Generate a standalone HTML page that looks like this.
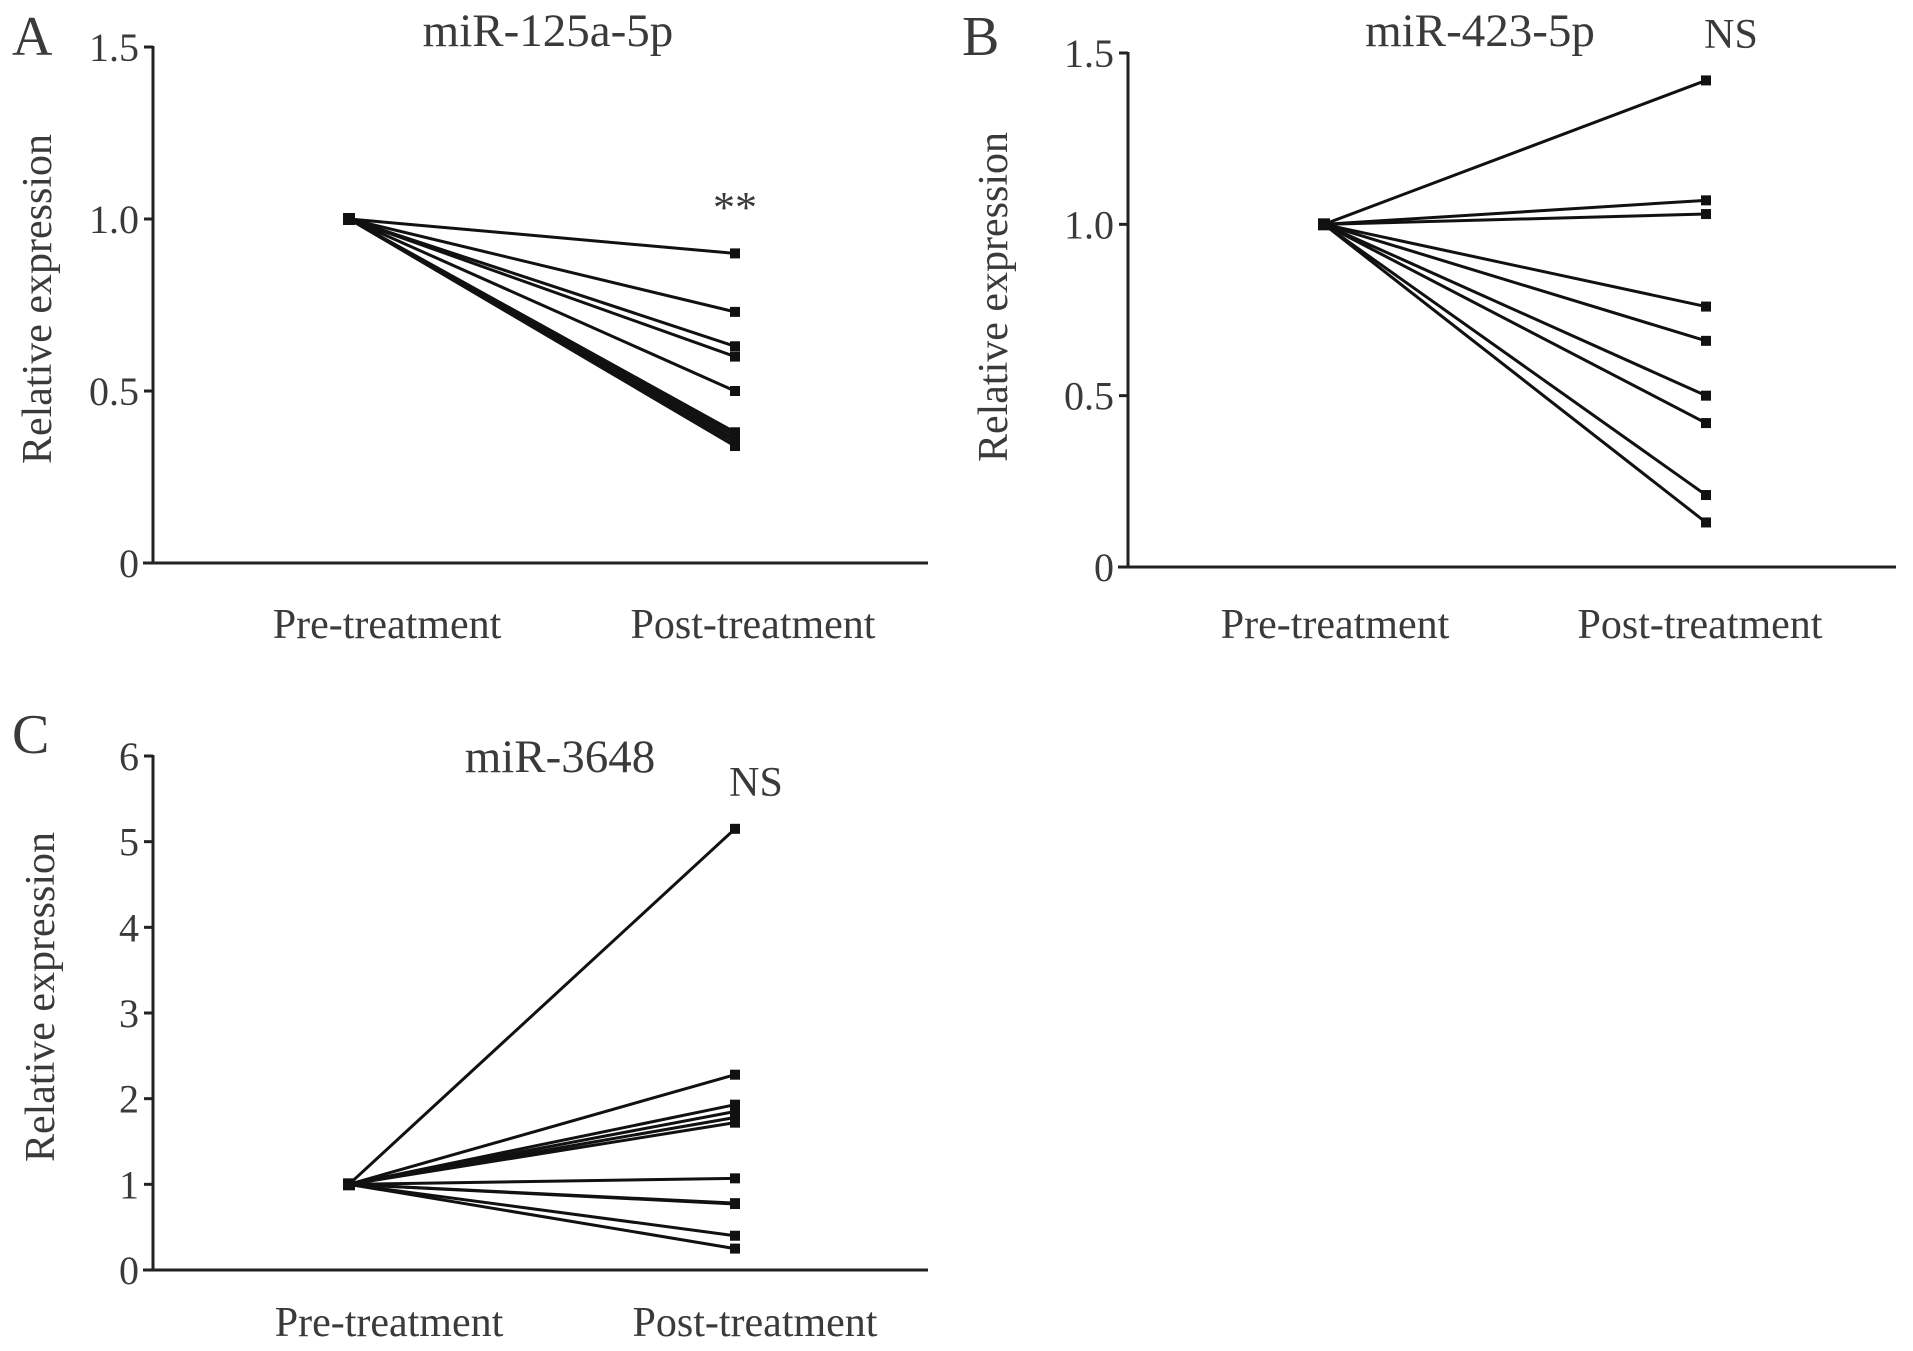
<!DOCTYPE html>
<html><head><meta charset="utf-8"><style>
html,body{margin:0;padding:0;background:#fff;}
svg{display:block;}
text{font-family:"Liberation Serif",serif;fill:#3a3a3a;}
</style></head><body>
<svg id="fig" width="1913" height="1351" viewBox="0 0 1913 1351" xmlns="http://www.w3.org/2000/svg"></svg>
<script>
const categories = ["Pre-treatment", "Post-treatment"];
const postA = [0.9, 0.73, 0.63, 0.6, 0.5, 0.38, 0.37, 0.36, 0.35, 0.34];
const postB = [1.42, 1.07, 1.03, 0.76, 0.66, 0.5, 0.42, 0.21, 0.13];
const postC = [5.15, 2.28, 1.93, 1.85, 1.78, 1.72, 1.07, 0.78, 0.77, 0.4, 0.25];
const preValue = 1;
const ticksA = [0, 0.5, 1.0, 1.5];
const tickLabelsA = ["0", "0.5", "1.0", "1.5"];
const ticksB = [0, 0.5, 1.0, 1.5];
const tickLabelsB = ["0", "0.5", "1.0", "1.5"];
const ticksC = [0, 1, 2, 3, 4, 5, 6];
const tickLabelsC = ["0", "1", "2", "3", "4", "5", "6"];

const NS = "http://www.w3.org/2000/svg";
const svg = document.getElementById("fig");
function mk(tag, attrs, parent) {
  const e = document.createElementNS(NS, tag);
  for (const k in attrs) e.setAttribute(k, attrs[k]);
  (parent || svg).appendChild(e);
  return e;
}
function txt(s, attrs, parent) { const t = mk("text", attrs, parent); t.textContent = s; return t; }

function panel(cfg) {
  const g = mk("g", {});
  
  
  const yMax = cfg.ticks[cfg.ticks.length - 1];
  const y = v => cfg.y0 - (v / yMax) * (cfg.y0 - cfg.yTop);
  const xs = [cfg.xPre, cfg.xPost];
  const ya = mk("line", {x1: cfg.ax, y1: cfg.yTop - 1, x2: cfg.ax, y2: cfg.y0 + 1.5, stroke: "#222", "stroke-width": 3}, g);
  
  
  const xa = mk("line", {x1: cfg.ax - 10, y1: cfg.y0, x2: cfg.axEnd, y2: cfg.y0, stroke: "#222", "stroke-width": 3}, g);
  
  
  cfg.ticks.forEach((t, i) => {
    const yy = y(t);
    const tk = mk("line", {x1: cfg.ax - 9, y1: yy, x2: cfg.ax, y2: yy, stroke: "#222", "stroke-width": 3}, g);
    
    
    const tl = txt(cfg.tickLabels[i], {x: cfg.ax - 14, y: yy + 14, "font-size": 40, "text-anchor": "end"}, g);
    
    
  });
  cfg.post.forEach(v => {
    const l = mk("line", {x1: xs[0], y1: y(preValue), x2: xs[1], y2: y(v), stroke: "#111", "stroke-width": 3}, g);
    
    
    const m = mk("rect", {x: xs[1] - 5, y: y(v) - 5, width: 10, height: 10, fill: "#111"}, g);
    
    
  });
  const pm = mk("rect", {x: xs[0] - 6, y: y(preValue) - 6, width: 12, height: 12, fill: "#111"}, g);
  
  
  categories.forEach((c, i) => {
    const cl = txt(c, {x: cfg.catX[i], y: cfg.catY, "font-size": 42, "text-anchor": "middle"}, g);
    
    
  });
  const tt = txt(cfg.title, {x: cfg.titleX, y: cfg.titleY, "font-size": 47, "text-anchor": "middle"}, g);
  
  
  const lt = txt(cfg.letter, {x: 10, y: 0, "font-size": 56, transform: "translate(" + cfg.letterX + "," + cfg.letterY + ")"}, g);
  
  
  const yl = txt("Relative expression", {x: 0, y: 0, "font-size": 42, "text-anchor": "middle", transform: "translate(" + (cfg.ylX + 14) + "," + cfg.ylY + ") rotate(-90)"}, g);
  
  
  if (cfg.sig) {
    const s = txt(cfg.sig, {x: cfg.sigX, y: cfg.sigY, "font-size": cfg.sig === "**" ? 44 : 42, "text-anchor": "middle"}, g);
    
    
  }
}

panel({letter: "A", letterX: 2, letterY: 55, title: "miR-125a-5p", titleX: 548, titleY: 46,
  ax: 153, axEnd: 928, y0: 563, yTop: 47, xPre: 349, xPost: 735,
  ticks: ticksA, tickLabels: tickLabelsA, post: postA,
  catX: [387, 753], catY: 638, ylX: 37, ylY: 299, sig: "**", sigX: 735, sigY: 222});
panel({letter: "B", letterX: 952, letterY: 55, title: "miR-423-5p", titleX: 1480, titleY: 46,
  ax: 1128, axEnd: 1896, y0: 567, yTop: 53, xPre: 1324, xPost: 1706,
  ticks: ticksB, tickLabels: tickLabelsB, post: postB,
  catX: [1335, 1700], catY: 638, ylX: 993, ylY: 297, sig: "NS", sigX: 1731, sigY: 48});
panel({letter: "C", letterX: 2, letterY: 753, title: "miR-3648", titleX: 560, titleY: 772,
  ax: 153, axEnd: 928, y0: 1270, yTop: 756, xPre: 349, xPost: 735,
  ticks: ticksC, tickLabels: tickLabelsC, post: postC,
  catX: [389, 755], catY: 1336, ylX: 40, ylY: 997, sig: "NS", sigX: 756, sigY: 796});
</script>
</body></html>
